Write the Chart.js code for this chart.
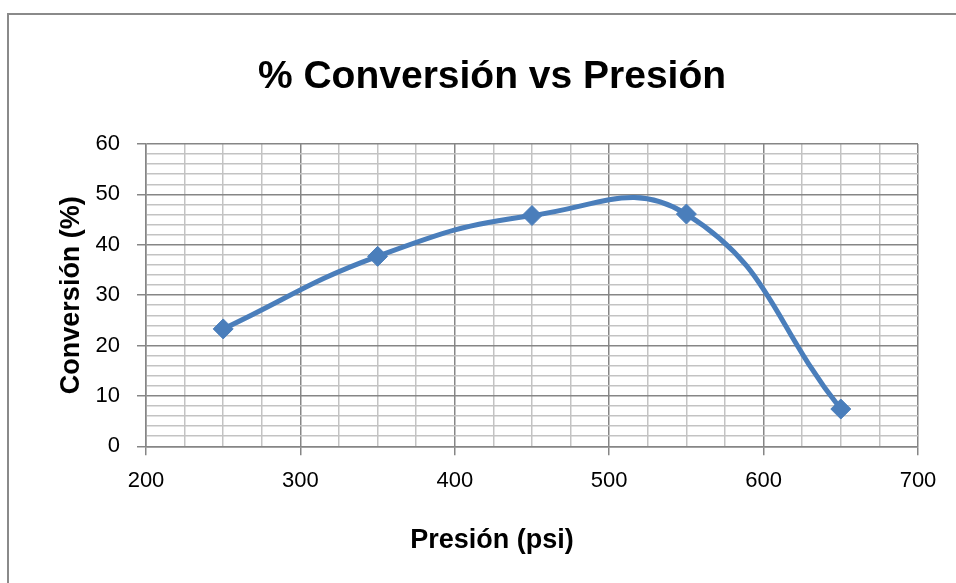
<!DOCTYPE html>
<html><head><meta charset="utf-8">
<script src="https://cdn.jsdelivr.net/npm/chart.js@4"></script>
<style>
html,body{margin:0;padding:0;background:#fff;overflow:hidden;}
#wrap{position:relative;width:956px;height:583px;overflow:hidden;}
#frame{position:absolute;left:7px;top:13px;width:1000px;height:700px;border-left:2px solid #8a8a8a;border-top:2px solid #8a8a8a;}
canvas{position:absolute;left:0;top:0;}
</style></head><body>
<div id="wrap"><div id="frame"></div><canvas id="c" width="956" height="583"></canvas></div>
<script>
const pressures = [250, 350, 450, 550, 650];
const conversion = [23.3, 37.7, 45.8, 46.1, 7.4];
const xTickLabels = [200, 300, 400, 500, 600, 700];
const yTickLabels = [0, 10, 20, 30, 40, 50, 60];
const chartTitle = '% Conversión vs Presión';
const xTitle = 'Presión (psi)';
const yTitle = 'Conversión (%)';

const FONT = "'Liberation Sans', Arial, sans-serif";
const MAJOR = '#868686', MINOR = '#c3c3c3';

new Chart(document.getElementById('c'), {
  type: 'line',
  data: {
    datasets: [{
      data: pressures.map((p, i) => ({x: p, y: conversion[i]})),
      borderColor: '#4a7ebb',
      backgroundColor: '#4a7ebb',
      borderWidth: 5,
      pointStyle: 'rectRot',
      pointRadius: 10,
      pointBackgroundColor: '#4a7ebb',
      pointBorderColor: '#4a7ebb',
      pointBorderWidth: 1,
      tension: 0.45,
      fill: false
    }]
  },
  options: {
    responsive: false,
    animation: false,
    layout: {padding: {left: 66, right: 38, top: 0, bottom: 0}},
    plugins: {
      legend: {display: false},
      tooltip: {enabled: false},
      title: {
        display: true, text: chartTitle, color: '#000',
        font: {family: FONT, size: 39, weight: 'bold', lineHeight: 1.2},
        padding: {top: 54, bottom: 43.2}
      },
      subtitle: {
        display: true, position: 'bottom', text: xTitle, color: '#000',
        font: {family: FONT, size: 27, weight: 'bold', lineHeight: 1.2},
        padding: {top: 0, bottom: 26.3}
      }
    },
    scales: {
      x: {
        type: 'linear', min: 200, max: 700,
        ticks: {
          stepSize: 25, autoSkip: false, maxRotation: 0, padding: 12, color: '#000',
          font: {family: FONT, size: 22},
          callback: v => xTickLabels.includes(v) ? String(v) : ''
        },
        grid: {
          color: c => (c.tick && c.tick.value % 100 === 0) ? MAJOR : MINOR,
          lineWidth: 1.5,
          tickColor: c => (c.tick && c.tick.value % 100 === 0) ? MAJOR : 'rgba(0,0,0,0)',
          tickLength: 9, drawTicks: true
        },
        border: {color: MAJOR, width: 1.5},
        afterFit: s => { s.height = 78; }
      },
      y: {
        type: 'linear', min: 0, max: 60,
        ticks: {
          stepSize: 2, autoSkip: false, padding: 17, color: '#000',
          font: {family: FONT, size: 22},
          callback: v => yTickLabels.includes(v) ? String(v) : ''
        },
        grid: {
          color: c => (c.tick && c.tick.value % 10 === 0) ? MAJOR : MINOR,
          lineWidth: 1.5,
          tickColor: c => (c.tick && c.tick.value % 10 === 0) ? MAJOR : 'rgba(0,0,0,0)',
          tickLength: 9, drawTicks: true
        },
        border: {color: MAJOR, width: 1.5},
        title: {
          display: true, text: yTitle, color: '#000',
          font: {family: FONT, size: 27, weight: 'bold', lineHeight: 0.44},
          padding: {top: 0, bottom: 0}
        },
        afterFit: s => { s.width = 80; }
      }
    }
  }
});
</script>
</body></html>
